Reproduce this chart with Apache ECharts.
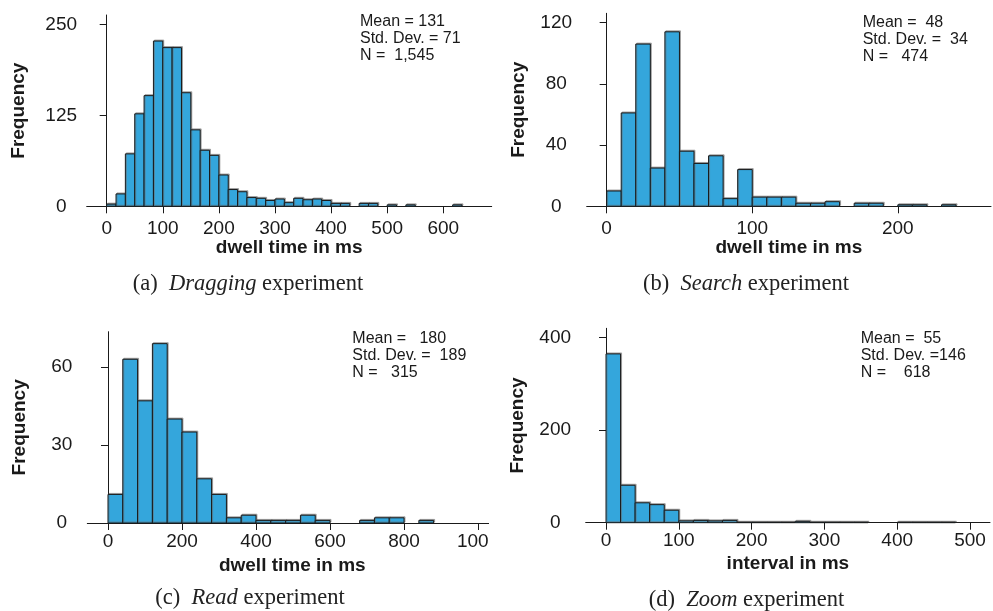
<!DOCTYPE html>
<html>
<head>
<meta charset="utf-8">
<title>Dwell time histograms</title>
<script src="https://cdn.jsdelivr.net/npm/echarts@6/dist/echarts.min.js"></script>
<style>
  html, body { margin: 0; padding: 0; background: #fff; }
  .panel { position: absolute; }
</style>
</head>
<body>
<div id="chartA" class="panel" style="left:0;top:0;width:495px;height:305px"></div>
<div id="chartB" class="panel" style="left:495px;top:0;width:498px;height:305px"></div>
<div id="chartC" class="panel" style="left:0;top:305px;width:489px;height:306px"></div>
<div id="chartD" class="panel" style="left:495px;top:305px;width:498px;height:306px"></div>
<script>
// Histogram data (bin width in ms, frequency per bin from 0)
const dragBinWidth = 100 / 6;
const dragCounts = [3, 17, 72, 127, 152, 227, 218, 218, 156, 105, 77, 70, 43, 23, 20,
    12, 11, 8, 10, 5, 11, 9, 10, 8, 4, 4, 0, 4, 4, 0, 2, 0, 2, 0, 0, 0, 0, 2];
const dragXTicks = [0, 100, 200, 300, 400, 500, 600];
const dragYTicks = [0, 125, 250];
const dragStats = ['Mean = 131', 'Std. Dev. = 71', 'N =  1,545'];

const searchBinWidth = 10;
const searchCounts = [10, 61, 106, 25, 114, 36, 28, 33, 5, 24, 6, 6, 6, 2, 2, 3, 0, 2, 2, 0, 1, 1, 0, 1];
const searchXTicks = [0, 100, 200];
const searchYTicks = [0, 40, 80, 120];
const searchStats = ['Mean =  48', 'Std. Dev. =  34', 'N =   474'];

const readBinWidth = 40;
const readCounts = [11, 63, 47, 69, 40, 35, 17, 11, 2, 3, 1, 1, 1, 3, 1, 0, 0, 1, 2, 2, 0, 1];
const readXTicks = [0, 200, 400, 600, 800, 1000];
const readYTicks = [0, 30, 60];
const readStats = ['Mean =   180', 'Std. Dev. =  189', 'N =   315'];

const zoomBinWidth = 20;
const zoomCounts = [365, 81, 43, 39, 27, 4, 5, 4, 5, 1, 1, 1, 1, 3, 1, 1, 1, 1, 0, 0, 1, 1, 1, 1];
const zoomXTicks = [0, 100, 200, 300, 400, 500];
const zoomYTicks = [0, 200, 400];
const zoomStats = ['Mean =  55', 'Std. Dev. =146', 'N =    618'];

const SANS = '"Liberation Sans", Arial, sans-serif';
const SERIF = '"Liberation Serif", "Times New Roman", serif';
const INK = '#1a1a1a';
const BAR_FILL = '#34a6dc';

// Turn counts into [binStart, binEnd, count] rows
function toBins(width, counts) {
    return counts.map((c, i) => [i * width, (i + 1) * width, c]);
}

// Draw each bin as a rectangle through the axis scales
function renderBin(params, api) {
    const count = api.value(2);
    if (!count) return null;
    const topLeft = api.coord([api.value(0), count]);
    const bottomRight = api.coord([api.value(1), 0]);
    return {
        type: 'rect',
        shape: {
            x: topLeft[0],
            y: topLeft[1],
            width: bottomRight[0] - topLeft[0],
            height: bottomRight[1] - topLeft[1]
        },
        style: {
            fill: BAR_FILL,
            stroke: INK,
            lineWidth: 1,
            shadowColor: 'rgba(110,110,110,0.55)',
            shadowOffsetX: 1,
            shadowOffsetY: -1,
            shadowBlur: 0
        }
    };
}

function buildOption(p) {
    const line = { color: INK, width: 1 };
    return {
        animation: false,
        grid: {
            left: p.grid[0], top: p.grid[1], width: p.grid[2], height: p.grid[3],
            outerBoundsMode: 'none', containLabel: false
        },
        xAxis: {
            type: 'value',
            min: p.xMin,
            max: p.xMax,
            name: p.xName,
            nameLocation: 'middle',
            nameGap: p.xNameGap,
            nameMoveOverlap: false,
            nameTextStyle: { fontFamily: SANS, fontWeight: 'bold', fontSize: 19, color: INK },
            axisLine: { show: true, onZero: false, lineStyle: line },
            axisTick: { show: true, length: 7, customValues: p.xTicks, lineStyle: line },
            axisLabel: { customValues: p.xTicks, fontFamily: SANS, fontSize: 19, color: INK,
                margin: p.xLabelMargin, formatter: v => String(v) },
            splitLine: { show: false }
        },
        yAxis: {
            type: 'value',
            min: 0,
            max: p.yMax,
            name: 'Frequency',
            nameLocation: 'middle',
            nameGap: 58,
            nameMoveOverlap: false,
            nameTextStyle: { fontFamily: SANS, fontWeight: 'bold', fontSize: 19, color: INK },
            axisLine: { show: true, lineStyle: line },
            axisTick: { show: true, length: 7, customValues: p.yTicks, lineStyle: line },
            axisLabel: { customValues: p.yTicks, fontFamily: SANS, fontSize: 19, color: INK,
                align: 'center', margin: p.yLabelMargin, formatter: v => String(v) },
            splitLine: { show: false }
        },
        graphic: [
            {
                type: 'text',
                x: p.statsPos[0],
                y: p.statsPos[1],
                style: {
                    text: p.stats.join('\n'),
                    font: '16px ' + SANS,
                    lineHeight: 17,
                    fill: INK
                }
            },
            {
                type: 'text',
                x: p.captionPos[0],
                y: p.captionPos[1],
                style: {
                    text: p.caption,
                    align: 'center',
                    verticalAlign: 'middle',
                    fontFamily: SERIF,
                    fontSize: 22.5,
                    fill: '#222',
                    rich: {
                        it: { fontFamily: SERIF, fontSize: 22.5, fontStyle: 'italic', fill: '#222' }
                    }
                }
            }
        ],
        series: [{
            type: 'custom',
            renderItem: renderBin,
            encode: { x: [0, 1], y: 2 },
            data: p.bins
        }]
    };
}

const panels = [
    {
        id: 'chartA', grid: [86.7, 15, 405, 191.3], xMin: -35.6, xMax: 686.3, yMax: 262.8,
        xTicks: dragXTicks, yTicks: dragYTicks, bins: toBins(dragBinWidth, dragCounts),
        xName: 'dwell time in ms', xNameGap: 32, xLabelMargin: 13, yLabelMargin: 25.5,
        stats: dragStats, statsPos: [360, 13],
        caption: '(a)  {it|Dragging} experiment', captionPos: [248, 284]
    },
    {
        id: 'chartB', grid: [91.7, 13.3, 404.3, 193], xMin: -13.7, xMax: 264, yMax: 126.1,
        xTicks: searchXTicks, yTicks: searchYTicks, bins: toBins(searchBinWidth, searchCounts),
        xName: 'dwell time in ms', xNameGap: 32, xLabelMargin: 13, yLabelMargin: 30.5,
        stats: searchStats, statsPos: [367.7, 14],
        caption: '(b)  {it|Search} experiment', captionPos: [251, 284]
    },
    {
        id: 'chartC', grid: [87.3, 26.7, 410, 191.3], xMin: -55.9, xMax: 1052, yMax: 73.6,
        xTicks: readXTicks, yTicks: readYTicks, bins: toBins(readBinWidth, readCounts),
        xName: 'dwell time in ms', xNameGap: 33, xLabelMargin: 9, yLabelMargin: 25.5,
        stats: readStats, statsPos: [352.3, 25],
        caption: '(c)  {it|Read} experiment', captionPos: [250, 293]
    },
    {
        id: 'chartD', grid: [90.7, 23.3, 404.3, 194.4], xMin: -27.9, xMax: 527.5, yMax: 420.3,
        xTicks: zoomXTicks, yTicks: zoomYTicks, bins: toBins(zoomBinWidth, zoomCounts),
        xName: 'interval in ms', xNameGap: 32, xLabelMargin: 9, yLabelMargin: 30.5,
        stats: zoomStats, statsPos: [365.7, 25],
        caption: '(d)  {it|Zoom} experiment', captionPos: [251.5, 295]
    }
];

panels.forEach(p => {
    const chart = echarts.init(document.getElementById(p.id));
    chart.setOption(buildOption(p));
});
</script>
</body>
</html>
